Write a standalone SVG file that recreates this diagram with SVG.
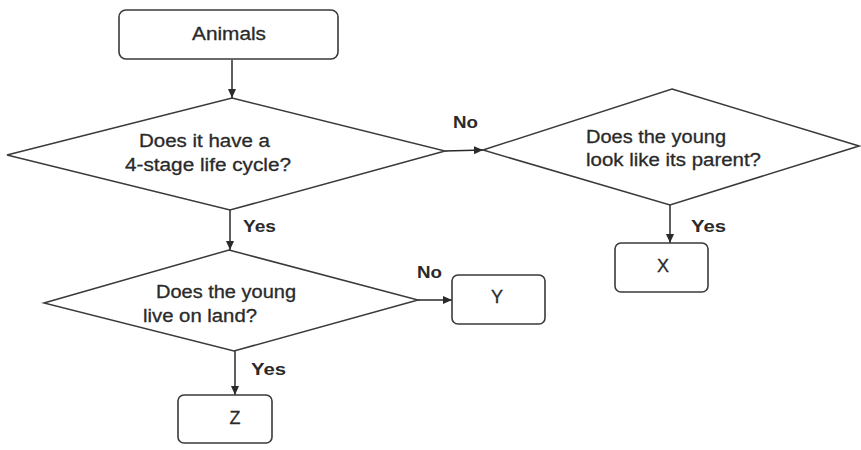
<svg xmlns="http://www.w3.org/2000/svg" width="861" height="450" viewBox="0 0 861 450">
<defs>
<marker id="arr" markerWidth="9" markerHeight="8" refX="9" refY="4" orient="auto" markerUnits="userSpaceOnUse">
<path d="M0,0 L9,4 L0,8 Z" fill="#2a2a2a"/>
</marker>
<style>
.box{fill:#fff;stroke:#3a3a3a;stroke-width:1.6}
.dia{fill:#fff;stroke:#3a3a3a;stroke-width:1.5}
.t{font-family:"Liberation Sans",Arial,sans-serif;font-size:18px;fill:#2a2a2a;stroke:#2a2a2a;stroke-width:0.3}
.c{text-anchor:middle}
.lb{font-family:"Liberation Sans",Arial,sans-serif;font-size:17px;font-weight:bold;fill:#2a2a2a}
.ln{stroke:#2a2a2a;stroke-width:1.5;fill:none;marker-end:url(#arr)}
</style>
</defs>
<rect width="861" height="450" fill="#fff"/>
<g id="connectors">
<line class="ln" x1="232" y1="60" x2="232" y2="98"/>
<line class="ln" x1="445" y1="151" x2="483" y2="150"/>
<line class="ln" x1="230" y1="210" x2="230" y2="250"/>
<line class="ln" x1="418" y1="300" x2="452" y2="300"/>
<line class="ln" x1="670" y1="205" x2="670" y2="243"/>
<line class="ln" x1="235" y1="351" x2="235" y2="395"/>
<text class="lb" x="453" y="128" textLength="25" lengthAdjust="spacingAndGlyphs">No</text>
<text class="lb" x="243" y="232" textLength="33" lengthAdjust="spacingAndGlyphs">Yes</text>
<text class="lb" x="691" y="232" textLength="35" lengthAdjust="spacingAndGlyphs">Yes</text>
<text class="lb" x="417" y="278" textLength="25" lengthAdjust="spacingAndGlyphs">No</text>
<text class="lb" x="251" y="375" textLength="35" lengthAdjust="spacingAndGlyphs">Yes</text>
</g>
<g id="animals">
<rect class="box" x="119" y="10" width="219" height="49" rx="7"/>
<text class="t c" x="229" y="40" textLength="74" lengthAdjust="spacingAndGlyphs">Animals</text>
</g>
<g id="q1">
<polygon class="dia" points="232,98 445,151 230,210 7,155"/>
<text class="t" x="139" y="147" textLength="131" lengthAdjust="spacingAndGlyphs">Does it have a</text>
<text class="t" x="125" y="171" textLength="166" lengthAdjust="spacingAndGlyphs">4-stage life cycle?</text>
</g>
<g id="q2">
<polygon class="dia" points="672,89 859,146 670,205 483,150"/>
<text class="t" x="586" y="143" textLength="140" lengthAdjust="spacingAndGlyphs">Does the young</text>
<text class="t" x="586" y="166" textLength="175" lengthAdjust="spacingAndGlyphs">look like its parent?</text>
</g>
<g id="q3">
<polygon class="dia" points="229,250 418,300 234,351 44,303"/>
<text class="t" x="156" y="298" textLength="140" lengthAdjust="spacingAndGlyphs">Does the young</text>
<text class="t" x="143" y="322" textLength="114" lengthAdjust="spacingAndGlyphs">live on land?</text>
</g>
<g id="x">
<rect class="box" x="615" y="243" width="93" height="49" rx="6"/>
<text class="t c" x="663" y="272">X</text>
</g>
<g id="y">
<rect class="box" x="452" y="275" width="93" height="49" rx="6"/>
<text class="t c" x="497" y="303">Y</text>
</g>
<g id="z">
<rect class="box" x="178" y="395" width="94" height="48" rx="6"/>
<text class="t c" x="235" y="424">Z</text>
</g>
</svg>
